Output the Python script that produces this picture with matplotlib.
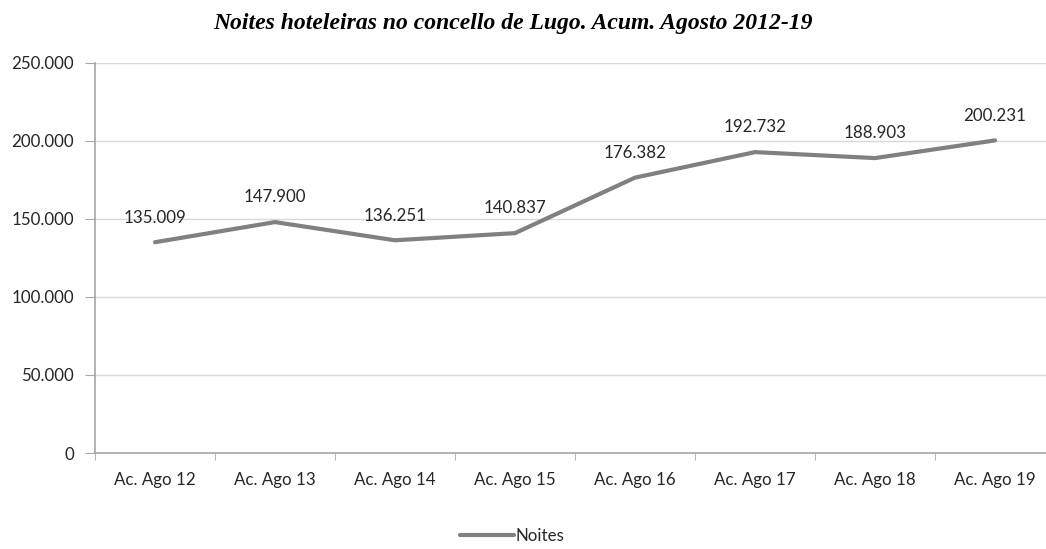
import matplotlib
matplotlib.use("Agg")
import matplotlib.pyplot as plt
from matplotlib.ticker import FuncFormatter, FixedLocator

categories = ["Ac. Ago 12", "Ac. Ago 13", "Ac. Ago 14", "Ac. Ago 15",
              "Ac. Ago 16", "Ac. Ago 17", "Ac. Ago 18", "Ac. Ago 19"]
noites = [135009, 147900, 136251, 140837, 176382, 192732, 188903, 200231]
yticks = [0, 50000, 100000, 150000, 200000, 250000]

def fmt(v):
    return f"{int(v):,}".replace(",", ".")

FS = 12.2
fig = plt.figure(figsize=(10.46, 5.49), dpi=100)
ax = fig.add_axes([95/1046, 96/549, 960/1046, 390.3/549])
x = list(range(len(categories)))
line, = ax.plot(x, noites, color="#808080", lw=3, solid_capstyle="round", label="Noites")
for xi, v in zip(x, noites):
    ax.annotate(fmt(v), (xi, v), xytext=(0, 12), textcoords="offset points",
                ha="center", va="bottom", fontsize=FS, family="Lato", color="#262626")

ax.set_xlim(-0.5, len(categories) - 0.5)
ax.set_ylim(0, 250000)
ax.set_yticks(yticks)
ax.yaxis.set_major_formatter(FuncFormatter(lambda v, p: fmt(v)))
ax.set_xticks(x)
ax.set_xticklabels(categories)
ax.xaxis.set_minor_locator(FixedLocator([i - 0.5 for i in range(len(categories) + 1)]))
ax.tick_params(axis="x", which="major", length=0, pad=14, labelsize=FS, labelcolor="#262626")
ax.tick_params(axis="x", which="minor", length=5, color="#a6a6a6", direction="out")
ax.tick_params(axis="y", length=7, color="#a6a6a6", pad=8, labelsize=FS, labelcolor="#262626")
for lab in ax.get_xticklabels() + ax.get_yticklabels():
    lab.set_family("Lato")
ax.grid(axis="y", color="#d9d9d9", lw=1)
ax.set_axisbelow(True)
for s in ["top", "right"]:
    ax.spines[s].set_visible(False)
ax.spines["left"].set_color("#a6a6a6")
ax.spines["bottom"].set_color("#a6a6a6")
ax.spines["left"].set_linewidth(1.2)
ax.spines["bottom"].set_linewidth(1.2)

fig.text(0.49, 0.958, "Noites hoteleiras no concello de Lugo. Acum. Agosto 2012-19",
         ha="center", va="center", fontsize=17, family="Liberation Serif",
         weight="bold", style="italic")
leg = fig.legend(handles=[line], loc="center", bbox_to_anchor=(512/1046, 1 - 536/549),
                 frameon=False, prop={"family": "Lato", "size": FS},
                 handlelength=3.2, handletextpad=0.1)
for t in leg.get_texts():
    t.set_color("#262626")
fig.savefig("out.png", dpi=100)
